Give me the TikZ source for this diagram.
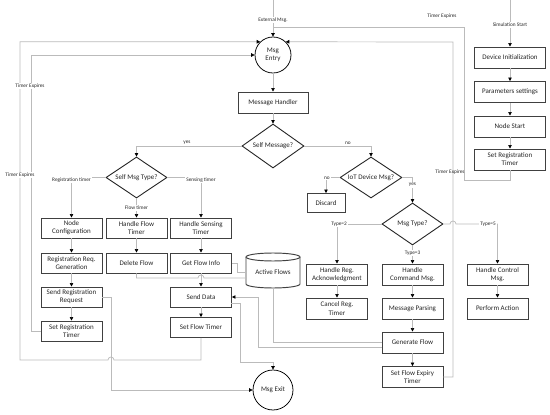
\documentclass[tikz,border=0pt]{standalone}
\usepackage{fontspec}
\setmainfont{Carlito}
\usetikzlibrary{arrows.meta,shapes.geometric,calc}
\definecolor{linec}{HTML}{BBBBBB}
\definecolor{boxc}{HTML}{404040}
\begin{document}
\begin{tikzpicture}[x=1pt,y=-1pt,
 box/.style={draw=boxc,line width=0.95pt,fill=white,minimum width=61pt,minimum height=20pt,align=center,inner sep=1pt,font=\fontsize{7}{8.2}\selectfont,text=black!85},
 dia/.style={diamond,draw=black!85,line width=0.9pt,minimum width=62pt,minimum height=43pt,inner sep=0pt},
 dtext/.style={font=\fontsize{7}{8.2}\selectfont,text=black!85},
 circ/.style={circle,draw=black,line width=0.75pt,minimum size=36pt,inner sep=0pt,align=center,font=\fontsize{7}{8.2}\selectfont,text=black!85},
 conn/.style={draw=linec,line width=0.7pt},
 arr/.style={conn,-{Triangle[length=3.5pt,width=3.5pt,color=black]}},
 lbl/.style={font=\fontsize{5.3}{6}\selectfont,fill=white,inner sep=1pt,text=black!85},
 nlbl/.style={font=\fontsize{5.3}{6}\selectfont,inner sep=1pt,text=black!85},
]
\fill[white] (0,0) rectangle (550,415);
\useasboundingbox (0,0) rectangle (550,415);

% ---------- nodes ----------
\node[circ] (entry) at (273,55) {Msg\\Entry};
\node[box,minimum width=70pt,minimum height=21pt] (mh) at (273,102.5) {Message Handler};
\node[dia,minimum height=44pt] (sm) at (273,146) {};
\node[dtext] at (sm) {Self Message?};
\node[dia,minimum width=61pt,minimum height=41pt] (smt) at (136.5,177.5) {};
\node[dtext] at (smt) {Self Msg Type?};
\node[dia,minimum height=41pt] (iot) at (371,177.5) {};
\node[dtext] at (iot) {IoT Device Msg?};
\node[dia,minimum width=61pt,minimum height=42pt] (mt) at (412.5,224) {};
\node[dtext] at (mt) {Msg Type?};

\node[box] (nc)  at (71.5,228) {Node\\Configuration};
\node[box] (hft) at (136.5,228) {Handle Flow\\Timer};
\node[box] (hst) at (201,228) {Handle Sensing\\Timer};
\node[box] (rrg) at (71.5,263) {Registration Req.\\Generation};
\node[box] (df)  at (136.5,263) {Delete Flow};
\node[box] (gfi) at (201,263) {Get Flow Info};
\node[box] (srr) at (71.5,297) {Send Registration\\Request};
\node[box] (sd)  at (201,297) {Send Data};
\node[box] (srt) at (71.5,331) {Set Registration\\Timer};
\node[box] (sft) at (201,327.5) {Set Flow Timer};

\node[box,minimum width=71pt,minimum height=21pt] (di)   at (510,57.5) {Device Initialization};
\node[box,minimum width=71pt,minimum height=21pt] (ps)   at (510,92) {Parameters settings};
\node[box,minimum width=71pt,minimum height=21pt] (ns)   at (510,126.5) {Node Start};
\node[box,minimum width=71pt,minimum height=21pt] (srt2) at (510,159.5) {Set Registration\\Timer};

\node[box,minimum width=38pt,minimum height=19pt] (dis) at (326,203) {Discard};
\node[box,minimum height=21pt] (hra)  at (337,274.5) {Handle Reg.\\Acknowledgment};
\node[box,minimum height=21pt] (hcm)  at (412.5,274.5) {Handle\\Command Msg.};
\node[box,minimum height=21pt] (hcon) at (497.5,274.5) {Handle Control\\Msg.};
\node[box,minimum height=21pt] (crt)  at (337,308.5) {Cancel Reg.\\Timer};
\node[box,minimum height=21pt] (mp)   at (412.5,308.5) {Message Parsing};
\node[box,minimum height=21pt] (pa)   at (497.5,308.5) {Perform Action};
\node[box,minimum height=21pt] (gf)   at (412.5,342.5) {Generate Flow};
\node[box,minimum height=21pt] (sfet) at (412.5,377) {Set Flow Expiry\\Timer};

% Active Flows cylinder
\node[minimum width=54pt,minimum height=35pt,inner sep=0pt] (af) at (273,270.5) {};
\draw[draw=boxc,line width=0.95pt,fill=white] (246,257) -- (246,284) arc[start angle=180,end angle=360,x radius=27pt,y radius=4pt] -- (300,257);
\draw[draw=boxc,line width=0.95pt,fill=white] (273,257) ellipse[x radius=27pt,y radius=4pt];
\node[dtext] at (273,272) {Active Flows};
\coordinate (af1) at (246,272);
\coordinate (af2) at (246,278);
\coordinate (afb) at (273,288);

\node[circ,minimum size=40pt] (xit) at (273,390) {Msg Exit};

% ---------- connectors ----------
\coordinate (extin) at (273,0);
\draw[arr] (extin) -- (entry.north);
\node[lbl] at (273,20) {External Msg.};
\coordinate (simin) at (510,0);
\draw[arr] (simin) -- (di.north);
\node[lbl] at (510,25) {Simulation Start};
\draw[arr] (di) -- (ps);
\draw[arr] (ps) -- (ns);
\draw[arr] (ns) -- (srt2);

\draw[arr] (entry.south) -- (mh.north);
\draw[arr] (mh.south) -- (sm.north);
\draw[arr] (sm.west) -| (smt.north);
\node[nlbl] at (187,143) {yes};
\draw[arr] (sm.east) -| (iot.north);
\node[nlbl] at (348,143) {no};

\draw[arr] (smt.west) -| (nc.north);
\node[lbl] at (71.5,180) {Registration timer};
\draw[arr] (smt.south) -- (hft.north);
\node[lbl] at (136.5,208) {Flow timer};
\draw[arr] (smt.east) -| (hst.north);
\node[lbl] at (201,180) {Sensing timer};

\draw[arr] (nc) -- (rrg);
\draw[arr] (rrg) -- (srr);
\draw[arr] (srr) -- (srt);
\draw[arr] (hft) -- (df);
\draw[arr] (hst) -- (gfi);
\draw[arr] (gfi) -- (sd);
\draw[arr] (sd.south) -- (sft.north);

\draw[arr] (iot.west) -| (dis.north);
\node[lbl] at (327,178) {no};
\draw[arr] (iot.east) -| (mt.north);
\node[lbl] at (412.5,185) {yes};
\draw[arr] (mt.west) -| (hra.north);
\node[lbl] at (339,224) {Type=2};
\draw[arr] (mt.south) -- (hcm.north);
\node[lbl] at (412.5,253) {Type=3};
\draw[arr] (mt.east) -- (450,224) arc[start angle=180,end angle=0,radius=3pt] -| (hcon.north);
\node[lbl] at (488,224) {Type=5};

\draw[arr] (hra) -- (crt);
\draw[arr] (hcm) -- (mp);
\draw[arr] (mp) -- (gf);
\draw[arr] (gf) -- (sfet);
\draw[arr] (hcon) -- (pa);

% Active Flows links
\draw[conn] (df.south) |- (198,278) arc[start angle=180,end angle=0,radius=3pt] -- (af2);
\draw[conn] (gfi.east) -| (237,272) -- (af1);
\draw[conn] (afb) |- (gf.west);
\coordinate (gfl) at (382,347);
\draw[arr] (gfl) -| (258,297) -- (sd.east);
\coordinate (sdr) at (231,303);
\draw[arr] (sdr) -| (240,362) -| (xit.north);
\draw[arr] (srr.east) -| (111,390) -- (xit.west);

% timer loops
\draw[arr] (sft.south) |- (114,360) arc[start angle=0,end angle=180,radius=3pt] -- (20,360) |- (entry.134);
\draw[arr] (srt.west) -- (31,331) |- (entry.west);
\node[lbl] at (30,86) {Timer Expires};
\node[lbl] at (20,175) {Timer Expires};
\draw[arr] (sfet.east) -| (453,42) -- (entry.46);
\draw[conn] (srt2.south) -- (510,180) -| (464,27) -- (273,27);
\node[nlbl] at (442,16) {Timer Expires};
\node[nlbl] at (450,172) {Timer Expires};
\end{tikzpicture}
\end{document}
